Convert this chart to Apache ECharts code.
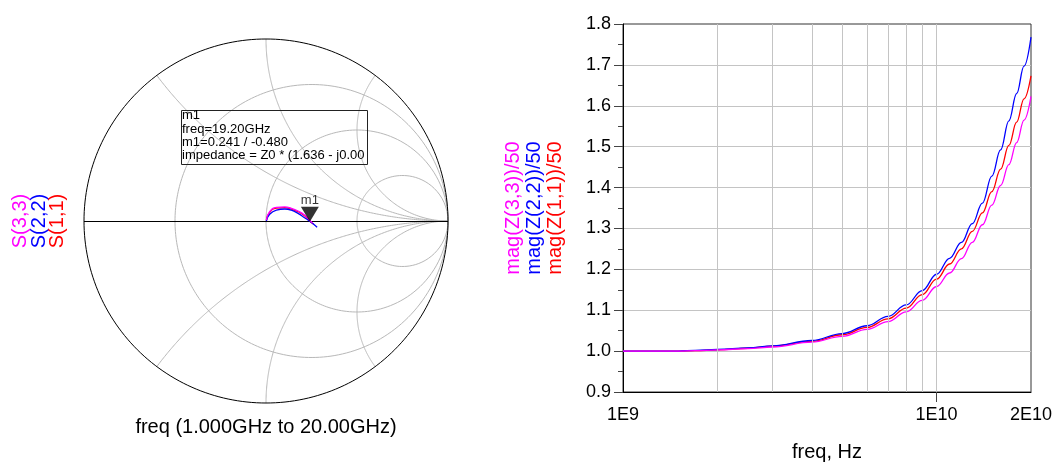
<!DOCTYPE html>
<html>
<head>
<meta charset="utf-8">
<script src="https://cdn.jsdelivr.net/npm/echarts@6/dist/echarts.min.js"></script>
<style>
  html, body { margin: 0; padding: 0; background: #fff; }
  #chart { width: 1063px; height: 467px; }
</style>
</head>
<body>
<div id="chart"></div>
<script>
// ---- Smith chart grid (normalized resistance circles / reactance arcs) ----
const smithGridR = [0, 1 / 3, 1, 3];
const smithGridX = [0.5, -0.5, 1, -1, 2, -2, 0];

// ---- Reflection coefficients, 1 GHz .. 20 GHz (real / imaginary) ----
const s11Re = [0.002, 0.020, 0.057, 0.103, 0.139, 0.176, 0.212, 0.241, 0.262];
const s11Im = [0.003, 0.047, 0.071, 0.074, 0.066, 0.051, 0.029, -0.002, -0.018];
const s22Re = [0.002, 0.020, 0.057, 0.103, 0.139, 0.176, 0.212, 0.248, 0.281];
const s22Im = [0.000, 0.037, 0.060, 0.066, 0.060, 0.042, 0.018, -0.007, -0.034];
const s33Re = [0.002, 0.020, 0.057, 0.103, 0.139, 0.176, 0.212, 0.240, 0.256];
const s33Im = [0.005, 0.051, 0.075, 0.078, 0.070, 0.055, 0.033, 0.005, -0.012];

// ---- Marker m1 on S(1,1) ----
const m1FreqGHz = 19.2;
const m1Mag = 0.241;
const m1AngDeg = -0.480;
const m1ZRe = 1.636;
const m1ZIm = -0.007;

// ---- |Z| / 50 versus frequency ----
const freqGHz = [1, 1.5, 1.7, 2, 2.5, 3, 4, 5, 6, 7, 8, 9, 10, 11, 12, 13, 14, 15, 16, 17, 18, 19, 20];
const magZ11 = [1.000, 1.000, 1.001, 1.003, 1.007, 1.012, 1.024, 1.040, 1.058, 1.079, 1.105, 1.138, 1.176, 1.213, 1.250, 1.293, 1.338, 1.390, 1.445, 1.503, 1.560, 1.617, 1.673];
const magZ22 = [1.000, 1.000, 1.002, 1.004, 1.008, 1.013, 1.026, 1.043, 1.062, 1.085, 1.113, 1.148, 1.188, 1.227, 1.266, 1.312, 1.362, 1.428, 1.492, 1.563, 1.630, 1.697, 1.768];
const magZ33 = [1.000, 1.000, 1.001, 1.003, 1.006, 1.010, 1.022, 1.036, 1.053, 1.072, 1.096, 1.124, 1.158, 1.191, 1.226, 1.266, 1.309, 1.357, 1.405, 1.456, 1.510, 1.565, 1.623];

// Log-axis grid lines and tick marks (Hz)
const gridFreqs = [2e9, 3e9, 4e9, 5e9, 6e9, 7e9, 8e9, 9e9, 1e10];
const xTickFreqs = [1e9, 1e10];

const FONT = '"Liberation Sans", Arial, sans-serif';
const RED = '#ff0000', BLUE = '#0000ff', MAGENTA = '#ff00ff';

function zip(a, b) { return a.map((v, i) => [v, b[i]]); }
function fmtE(v) {
  const e = Math.floor(Math.log10(v) + 1e-6);
  const m = Math.round(v / Math.pow(10, e));
  return m + 'E' + e;
}

// grid entries: [kind, value]; kind 0 = constant resistance, 1 = constant reactance
const smithGridData = smithGridR.map(r => [0, r]).concat(smithGridX.map(x => [1, x]));

function renderSmithGrid(params, api) {
  const kind = api.value(0), v = api.value(1);
  const outline = (v === 0);
  if (kind === 1 && outline) {
    // real axis: straight line from gamma -1 to +1
    const a = api.coord([-1, 0]), b = api.coord([1, 0]);
    return {
      type: 'line', z2: 3, silent: true,
      shape: { x1: a[0], y1: Math.round(a[1]) + 0.5, x2: b[0], y2: Math.round(b[1]) + 0.5 },
      style: { stroke: '#000', lineWidth: 1 }
    };
  }
  const N = 240, pts = [];
  for (let i = 0; i <= N; i++) {
    let zr, zi;
    if (kind === 0) { zr = v; zi = Math.tan(-Math.PI / 2 + Math.PI * i / N); }
    else { zr = Math.tan((Math.PI / 2) * i / N); zi = v; }
    const ar = zr - 1, ai = zi, br = zr + 1, bi = zi;
    const d = br * br + bi * bi;
    const gr = (ar * br + ai * bi) / d, gi = (ai * br - ar * bi) / d;
    pts.push(api.coord([gr, gi]));
  }
  return {
    type: 'polyline',
    shape: { points: pts },
    z2: outline ? 2 : 1,
    style: { stroke: outline ? '#000' : '#b8b8b8', fill: null, lineWidth: 1 },
    silent: true
  };
}

const m1Re = m1Mag * Math.cos(m1AngDeg * Math.PI / 180);
const m1Im = m1Mag * Math.sin(m1AngDeg * Math.PI / 180);

const markerLines = [
  'm1',
  'freq=' + m1FreqGHz.toFixed(2) + 'GHz',
  'm1=' + m1Mag.toFixed(3) + ' / ' + m1AngDeg.toFixed(3),
  'impedance = Z0 * (' + m1ZRe.toFixed(3) + ' - j' + Math.abs(m1ZIm).toFixed(3) + ')'
];

const chart = echarts.init(document.getElementById('chart'), null, { renderer: 'canvas' });

chart.setOption({
  animation: false,
  backgroundColor: '#fff',
  textStyle: { fontFamily: FONT },
  grid: [
    { left: 84, top: 39, width: 364, height: 364 },
    { left: 623, top: 24, width: 408, height: 370, show: true, borderColor: '#333', borderWidth: 1 }
  ],
  xAxis: [
    { gridIndex: 0, type: 'value', min: -1, max: 1, show: false },
    {
      gridIndex: 1, type: 'log', logBase: 10, min: 1e9, max: 2e10,
      name: 'freq, Hz', nameLocation: 'middle', nameGap: 50,
      nameTextStyle: { fontSize: 20, color: '#000', fontFamily: FONT },
      axisLine: { lineStyle: { color: '#000', width: 1 } },
      axisTick: { show: true, customValues: xTickFreqs, length: 10, lineStyle: { color: '#444' } },
      axisLabel: { fontSize: 18, color: '#000', margin: 14, formatter: fmtE },
      splitLine: { show: false },
      minorTick: { show: false }
    }
  ],
  yAxis: [
    { gridIndex: 0, type: 'value', min: -1, max: 1, show: false },
    {
      gridIndex: 1, type: 'value', min: 0.9, max: 1.8, interval: 0.1,
      axisLine: { show: true, lineStyle: { color: '#000', width: 1 } },
      axisTick: { show: true, length: 9, lineStyle: { color: '#444' } },
      minorTick: { show: true, splitNumber: 2, length: 5, lineStyle: { color: '#444' } },
      axisLabel: { fontSize: 18, color: '#000', margin: 12, formatter: v => v.toFixed(1) },
      splitLine: { show: true, showMaxLine: false, showMinLine: false, lineStyle: { color: '#c4c4c4', width: 1 } }
    }
  ],
  series: [
    {
      type: 'custom', xAxisIndex: 0, yAxisIndex: 0, z: 1, silent: true,
      renderItem: renderSmithGrid, data: smithGridData, clip: false
    },
    {
      name: 'S(1,1)', type: 'line', xAxisIndex: 0, yAxisIndex: 0, z: 3,
      data: zip(s11Re, s11Im), smooth: true, showSymbol: false,
      lineStyle: { color: RED, width: 1.3 }
    },
    {
      name: 'S(2,2)', type: 'line', xAxisIndex: 0, yAxisIndex: 0, z: 3,
      data: zip(s22Re, s22Im), smooth: true, showSymbol: false,
      lineStyle: { color: BLUE, width: 1.3 }
    },
    {
      name: 'S(3,3)', type: 'line', xAxisIndex: 0, yAxisIndex: 0, z: 3,
      data: zip(s33Re, s33Im), smooth: true, showSymbol: false,
      lineStyle: { color: MAGENTA, width: 1.3 }
    },
    {
      name: 'm1', type: 'scatter', xAxisIndex: 0, yAxisIndex: 0, z: 5,
      data: [[m1Re, m1Im]],
      symbol: 'triangle', symbolRotate: 180, symbolSize: [18, 15], symbolOffset: [0, -7],
      itemStyle: { color: '#000' },
      label: { show: true, position: 'top', distance: 0, formatter: 'm1', fontSize: 13, color: '#000' }
    },
    {
      name: 'grid', type: 'line', xAxisIndex: 1, yAxisIndex: 1, z: 1, data: [],
      markLine: {
        silent: true, symbol: 'none', label: { show: false },
        lineStyle: { color: '#c4c4c4', type: 'solid', width: 1 },
        data: gridFreqs.map(f => ({ xAxis: f }))
      }
    },
    {
      name: 'mag(Z(1,1))/50', type: 'line', xAxisIndex: 1, yAxisIndex: 1, z: 3,
      data: zip(freqGHz.map(f => f * 1e9), magZ11), smooth: 0.4, smoothMonotone: 'x', showSymbol: false,
      lineStyle: { color: RED, width: 1.3 }
    },
    {
      name: 'mag(Z(2,2))/50', type: 'line', xAxisIndex: 1, yAxisIndex: 1, z: 3,
      data: zip(freqGHz.map(f => f * 1e9), magZ22), smooth: 0.4, smoothMonotone: 'x', showSymbol: false,
      lineStyle: { color: BLUE, width: 1.3 }
    },
    {
      name: 'mag(Z(3,3))/50', type: 'line', xAxisIndex: 1, yAxisIndex: 1, z: 3,
      data: zip(freqGHz.map(f => f * 1e9), magZ33), smooth: 0.4, smoothMonotone: 'x', showSymbol: false,
      lineStyle: { color: MAGENTA, width: 1.3 }
    }
  ],
  graphic: [
    // marker readout box
    {
      type: 'rect', left: 179, top: 108, z: 10, silent: true,
      shape: { width: 186, height: 54 },
      style: { fill: null, stroke: '#222', lineWidth: 1 }
    },
    {
      type: 'text', x: 182, y: 109, z: 11, silent: true,
      style: {
        text: markerLines.join('\n'), font: '13px ' + FONT, fill: '#000',
        lineHeight: 13.3, width: 190, overflow: 'truncate', ellipsis: ''
      }
    },
    // Smith chart trace labels
    {
      type: 'text', x: 39, y: 221, rotation: Math.PI / 2, silent: true,
      style: {
        text: '{m|S(3,3)}\n{b|S(2,2)}\n{r|S(1,1)}',
        align: 'center', verticalAlign: 'middle', font: '20px ' + FONT,
        rich: {
          m: { fill: MAGENTA, fontSize: 20, lineHeight: 18.5 },
          b: { fill: BLUE, fontSize: 20, lineHeight: 18.5 },
          r: { fill: RED, fontSize: 20, lineHeight: 18.5 }
        }
      }
    },
    {
      type: 'text', x: 266, y: 427, silent: true,
      style: {
        text: 'freq (1.000GHz to 20.00GHz)', font: '20px ' + FONT, fill: '#000',
        align: 'center', verticalAlign: 'middle'
      }
    },
    // |Z| chart trace labels
    {
      type: 'text', x: 534, y: 208, rotation: Math.PI / 2, silent: true,
      style: {
        text: '{m|mag(Z(3,3))/50}\n{b|mag(Z(2,2))/50}\n{r|mag(Z(1,1))/50}',
        align: 'center', verticalAlign: 'middle', font: '20px ' + FONT,
        rich: {
          m: { fill: MAGENTA, fontSize: 20, lineHeight: 21 },
          b: { fill: BLUE, fontSize: 20, lineHeight: 21 },
          r: { fill: RED, fontSize: 20, lineHeight: 21 }
        }
      }
    }
  ]
});
</script>
</body>
</html>
